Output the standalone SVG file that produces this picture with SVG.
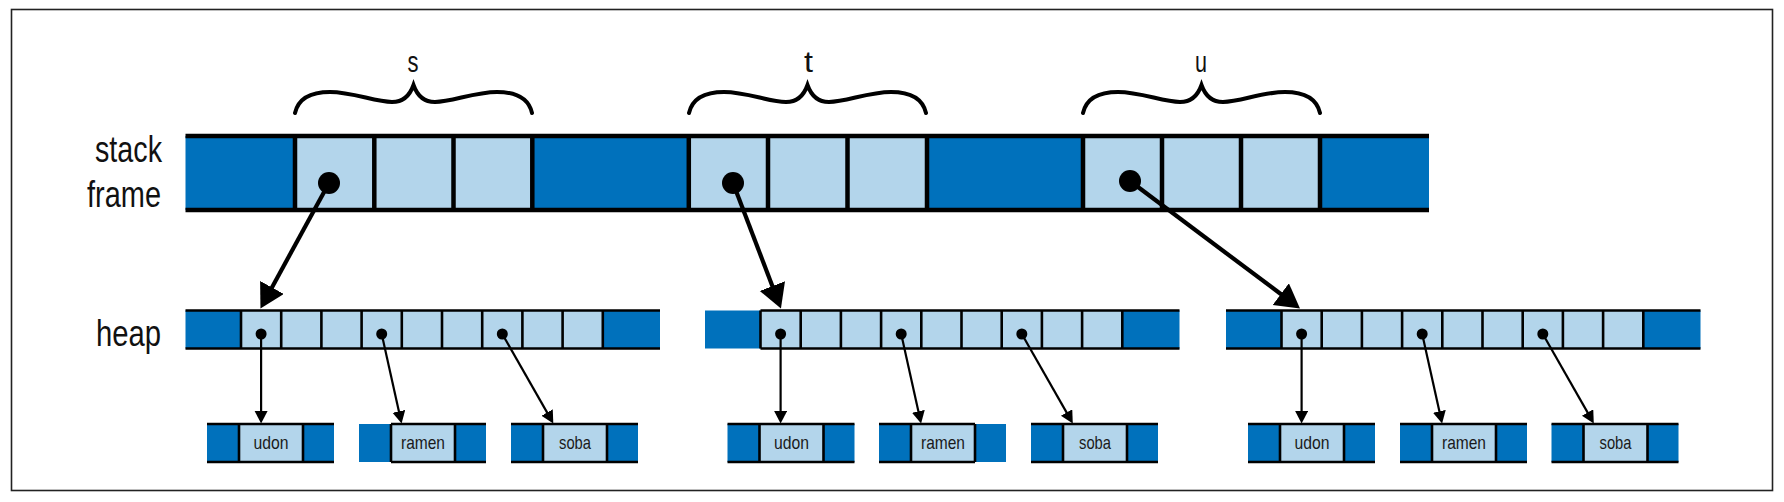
<svg xmlns="http://www.w3.org/2000/svg" width="1784" height="502" viewBox="0 0 1784 502">
<style>
.dk{fill:#0071BC}
.lt{fill:#B3D5EB}
.ln{stroke:#000;stroke-width:4.5;fill:none}
.hl{stroke:#000;stroke-width:2.6;fill:none}
.br{stroke:#000;stroke-width:4;fill:none;stroke-linecap:round}
.lab{font-family:"Liberation Sans",Arial,sans-serif;fill:#111}
.big{font-size:37px;text-anchor:end}
.var{font-size:29px;text-anchor:middle}
.box{font-size:19px;text-anchor:middle;fill:#1a1a1a}
.ar1{stroke:#000;stroke-width:4.2;fill:none}
.ar2{stroke:#000;stroke-width:2.2;fill:none}
</style>
<defs>
<marker id="mBig" markerUnits="userSpaceOnUse" markerWidth="26" markerHeight="28" refX="2" refY="13.5" orient="auto"><path d="M0,0 L24,13.5 L0,27 z" fill="#000"/></marker>
<marker id="mSm" markerUnits="userSpaceOnUse" markerWidth="14" markerHeight="14" refX="1" refY="6.5" orient="auto"><path d="M0,0 L12.5,6.5 L0,13 z" fill="#000"/></marker>
<path id="brace" d="M0,28 C3,15 14,7 35,7 C58,7 80,17 97,17 C109,17 115,10 118.5,0 C122,10 128,17 140,17 C157,17 179,7 202,7 C223,7 234,15 237,28"/>
</defs>
<rect x="11.5" y="9.5" width="1761" height="481" fill="#fff" stroke="#222" stroke-width="1.6"/>

<g id="labels">
<text class="lab big" x="162" y="162" textLength="67" lengthAdjust="spacingAndGlyphs">stack</text>
<text class="lab big" x="161" y="207" textLength="74" lengthAdjust="spacingAndGlyphs">frame</text>
<text class="lab big" x="161" y="346" textLength="65" lengthAdjust="spacingAndGlyphs">heap</text>
</g>

<g id="braces">
<g id="brace-s"><use href="#brace" class="br" transform="translate(295,85)"/><text class="lab var" x="413" y="72" textLength="11" lengthAdjust="spacingAndGlyphs">s</text></g>
<g id="brace-t"><use href="#brace" class="br" transform="translate(689,85)"/><text class="lab var" x="808.5" y="72" textLength="9" lengthAdjust="spacingAndGlyphs">t</text></g>
<g id="brace-u"><use href="#brace" class="br" transform="translate(1083,85)"/><text class="lab var" x="1201" y="72" textLength="12" lengthAdjust="spacingAndGlyphs">u</text></g>
</g>

<g id="stack-frame">
<rect class="dk" x="185.5" y="136" width="110" height="74"/>
<rect class="lt" x="295" y="136" width="237.5" height="74"/>
<rect class="dk" x="532.3" y="136" width="156.7" height="74"/>
<rect class="lt" x="688.8" y="136" width="238.4" height="74"/>
<rect class="dk" x="927" y="136" width="156.2" height="74"/>
<rect class="lt" x="1083" y="136" width="237.2" height="74"/>
<rect class="dk" x="1320" y="136" width="109" height="74"/>
<path class="ln" d="M185.5,136 H1429 M185.5,210 H1429 M295,136 V210 M374.3,136 V210 M453.5,136 V210 M532.3,136 V210 M688.8,136 V210 M768,136 V210 M847.5,136 V210 M927,136 V210 M1083,136 V210 M1162,136 V210 M1241,136 V210 M1320,136 V210"/>
<circle cx="329" cy="183" r="11"/>
<circle cx="733" cy="183" r="11"/>
<circle cx="1130" cy="181" r="11"/>
</g>

<g id="heap-s" transform="translate(185.5,0)">
<rect class="dk" x="0" y="310.5" width="56" height="38"/>
<rect class="lt" x="55.5" y="310.5" width="362" height="38"/>
<rect class="dk" x="417.3" y="310.5" width="57.2" height="38"/>
<path class="hl" d="M0,310.5 H474.5 M0,348.5 H474.5 M55.5,310.5 V348.5 M95.7,310.5 V348.5 M135.9,310.5 V348.5 M176.1,310.5 V348.5 M216.3,310.5 V348.5 M256.5,310.5 V348.5 M296.7,310.5 V348.5 M336.9,310.5 V348.5 M377.1,310.5 V348.5 M417.3,310.5 V348.5"/>
<circle cx="75.6" cy="334" r="5.5"/><circle cx="196.2" cy="334" r="5.5"/><circle cx="316.8" cy="334" r="5.5"/>
</g>
<g id="heap-t" transform="translate(705,0)">
<rect class="dk" x="0" y="310.5" width="56" height="38"/>
<rect class="lt" x="55.5" y="310.5" width="362" height="38"/>
<rect class="dk" x="417.3" y="310.5" width="57.2" height="38"/>
<path class="hl" d="M55.5,310.5 H474.5 M55.5,348.5 H474.5 M55.5,310.5 V348.5 M95.7,310.5 V348.5 M135.9,310.5 V348.5 M176.1,310.5 V348.5 M216.3,310.5 V348.5 M256.5,310.5 V348.5 M296.7,310.5 V348.5 M336.9,310.5 V348.5 M377.1,310.5 V348.5 M417.3,310.5 V348.5"/>
<circle cx="75.6" cy="334" r="5.5"/><circle cx="196.2" cy="334" r="5.5"/><circle cx="316.8" cy="334" r="5.5"/>
</g>
<g id="heap-u" transform="translate(1226,0)">
<rect class="dk" x="0" y="310.5" width="56" height="38"/>
<rect class="lt" x="55.5" y="310.5" width="362" height="38"/>
<rect class="dk" x="417.3" y="310.5" width="57.2" height="38"/>
<path class="hl" d="M0,310.5 H474.5 M0,348.5 H474.5 M55.5,310.5 V348.5 M95.7,310.5 V348.5 M135.9,310.5 V348.5 M176.1,310.5 V348.5 M216.3,310.5 V348.5 M256.5,310.5 V348.5 M296.7,310.5 V348.5 M336.9,310.5 V348.5 M377.1,310.5 V348.5 M417.3,310.5 V348.5"/>
<circle cx="75.6" cy="334" r="5.5"/><circle cx="196.2" cy="334" r="5.5"/><circle cx="316.8" cy="334" r="5.5"/>
</g>

<!-- string boxes, heap s -->
<g id="s-udon" transform="translate(207,424)">
<rect class="dk" x="0" y="0" width="127" height="38"/><rect class="lt" x="32" y="0" width="64" height="38"/>
<path class="hl" d="M0,0 H127 M0,38 H127 M32,0 V38 M96,0 V38"/>
<text class="lab box" x="64" y="24.5" textLength="35" lengthAdjust="spacingAndGlyphs">udon</text>
</g>
<g id="s-ramen" transform="translate(359,424)">
<rect class="dk" x="0" y="0" width="127" height="38"/><rect class="lt" x="32" y="0" width="64" height="38"/>
<path class="hl" d="M32,0 H127 M32,38 H127 M32,0 V38 M96,0 V38"/>
<text class="lab box" x="64" y="24.5" textLength="44" lengthAdjust="spacingAndGlyphs">ramen</text>
</g>
<g id="s-soba" transform="translate(511,424)">
<rect class="dk" x="0" y="0" width="127" height="38"/><rect class="lt" x="32" y="0" width="64" height="38"/>
<path class="hl" d="M0,0 H127 M0,38 H127 M32,0 V38 M96,0 V38"/>
<text class="lab box" x="64" y="24.5" textLength="32" lengthAdjust="spacingAndGlyphs">soba</text>
</g>
<!-- heap t -->
<g id="t-udon" transform="translate(727.5,424)">
<rect class="dk" x="0" y="0" width="127" height="38"/><rect class="lt" x="32" y="0" width="64" height="38"/>
<path class="hl" d="M0,0 H127 M0,38 H127 M32,0 V38 M96,0 V38"/>
<text class="lab box" x="64" y="24.5" textLength="35" lengthAdjust="spacingAndGlyphs">udon</text>
</g>
<g id="t-ramen" transform="translate(879,424)">
<rect class="dk" x="0" y="0" width="127" height="38"/><rect class="lt" x="32" y="0" width="64" height="38"/>
<path class="hl" d="M0,0 H96 M0,38 H96 M32,0 V38 M96,0 V38"/>
<text class="lab box" x="64" y="24.5" textLength="44" lengthAdjust="spacingAndGlyphs">ramen</text>
</g>
<g id="t-soba" transform="translate(1031,424)">
<rect class="dk" x="0" y="0" width="127" height="38"/><rect class="lt" x="32" y="0" width="64" height="38"/>
<path class="hl" d="M0,0 H127 M0,38 H127 M32,0 V38 M96,0 V38"/>
<text class="lab box" x="64" y="24.5" textLength="32" lengthAdjust="spacingAndGlyphs">soba</text>
</g>
<!-- heap u -->
<g id="u-udon" transform="translate(1248,424)">
<rect class="dk" x="0" y="0" width="127" height="38"/><rect class="lt" x="32" y="0" width="64" height="38"/>
<path class="hl" d="M0,0 H127 M0,38 H127 M32,0 V38 M96,0 V38"/>
<text class="lab box" x="64" y="24.5" textLength="35" lengthAdjust="spacingAndGlyphs">udon</text>
</g>
<g id="u-ramen" transform="translate(1400,424)">
<rect class="dk" x="0" y="0" width="127" height="38"/><rect class="lt" x="32" y="0" width="64" height="38"/>
<path class="hl" d="M0,0 H127 M0,38 H127 M32,0 V38 M96,0 V38"/>
<text class="lab box" x="64" y="24.5" textLength="44" lengthAdjust="spacingAndGlyphs">ramen</text>
</g>
<g id="u-soba" transform="translate(1551.5,424)">
<rect class="dk" x="0" y="0" width="127" height="38"/><rect class="lt" x="32" y="0" width="64" height="38"/>
<path class="hl" d="M0,0 H127 M0,38 H127 M32,0 V38 M96,0 V38"/>
<text class="lab box" x="64" y="24.5" textLength="32" lengthAdjust="spacingAndGlyphs">soba</text>
</g>

<g id="connectors">
<line class="ar1" x1="329" y1="183" x2="271" y2="289.2" marker-end="url(#mBig)"/>
<line class="ar1" x1="733" y1="183" x2="773.1" y2="288" marker-end="url(#mBig)"/>
<line class="ar1" x1="1130" y1="181" x2="1282.4" y2="295.3" marker-end="url(#mBig)"/>
<g transform="translate(185.5,0)">
<line class="ar2" x1="75.6" y1="334" x2="75.6" y2="412" marker-end="url(#mSm)"/>
<line class="ar2" x1="196.2" y1="334" x2="213.6" y2="412.3" marker-end="url(#mSm)"/>
<line class="ar2" x1="316.8" y1="334" x2="362.1" y2="413.4" marker-end="url(#mSm)"/>
</g>
<g transform="translate(705,0)">
<line class="ar2" x1="75.6" y1="334" x2="75.6" y2="412" marker-end="url(#mSm)"/>
<line class="ar2" x1="196.2" y1="334" x2="213.6" y2="412.3" marker-end="url(#mSm)"/>
<line class="ar2" x1="316.8" y1="334" x2="362.1" y2="413.4" marker-end="url(#mSm)"/>
</g>
<g transform="translate(1226,0)">
<line class="ar2" x1="75.6" y1="334" x2="75.6" y2="412" marker-end="url(#mSm)"/>
<line class="ar2" x1="196.2" y1="334" x2="213.6" y2="412.3" marker-end="url(#mSm)"/>
<line class="ar2" x1="316.8" y1="334" x2="362.1" y2="413.4" marker-end="url(#mSm)"/>
</g>
</g>
</svg>
